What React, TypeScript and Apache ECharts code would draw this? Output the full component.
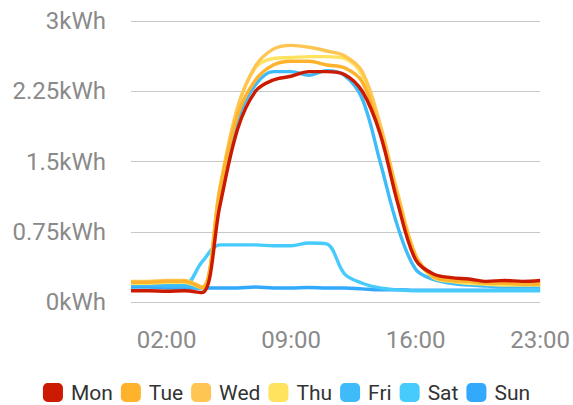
import React, { useEffect, useRef } from "react";
import * as echarts from "echarts";

const hours = [
  "00:00", "01:00", "02:00", "03:00", "04:00", "05:00", "06:00", "07:00",
  "08:00", "09:00", "10:00", "11:00", "12:00", "13:00", "14:00", "15:00",
  "16:00", "17:00", "18:00", "19:00", "20:00", "21:00", "22:00", "23:00",
];

const days = ["Mon", "Tue", "Wed", "Thu", "Fri", "Sat", "Sun"];
const colors = ["#cc1a00", "#ffb32c", "#ffc552", "#ffe35f", "#40bbfa", "#47cbfd", "#33a9fc"];

const mon = [0.12, 0.12, 0.115, 0.12, 0.1, 1.03, 1.85, 2.25, 2.37, 2.41, 2.46, 2.46, 2.43, 2.25, 1.8, 1.05, 0.45, 0.3, 0.26, 0.245, 0.22, 0.23, 0.22, 0.23];
const tue = [0.21, 0.21, 0.22, 0.22, 0.15, 1.2, 2.0, 2.37, 2.53, 2.57, 2.57, 2.53, 2.5, 2.35, 1.82, 1.1, 0.48, 0.27, 0.23, 0.22, 0.2, 0.2, 0.19, 0.19];
const wed = [0.22, 0.22, 0.23, 0.23, 0.16, 1.22, 2.08, 2.52, 2.7, 2.74, 2.72, 2.68, 2.63, 2.46, 1.9, 1.15, 0.5, 0.28, 0.24, 0.22, 0.21, 0.2, 0.2, 0.2];
const thu = [0.2, 0.2, 0.21, 0.21, 0.15, 1.22, 2.08, 2.5, 2.6, 2.61, 2.62, 2.62, 2.6, 2.42, 1.88, 1.15, 0.5, 0.26, 0.22, 0.2, 0.19, 0.18, 0.18, 0.18];
const fri = [0.18, 0.18, 0.17, 0.17, 0.14, 1.15, 1.95, 2.32, 2.46, 2.46, 2.42, 2.47, 2.42, 2.17, 1.5, 0.8, 0.35, 0.24, 0.2, 0.18, 0.17, 0.16, 0.16, 0.16];
const sat = [0.19, 0.19, 0.18, 0.18, 0.43, 0.61, 0.61, 0.61, 0.6, 0.6, 0.63, 0.62, 0.3, 0.2, 0.15, 0.13, 0.12, 0.12, 0.12, 0.12, 0.12, 0.12, 0.12, 0.12];
const sun = [0.16, 0.16, 0.15, 0.15, 0.15, 0.15, 0.15, 0.16, 0.15, 0.15, 0.155, 0.15, 0.15, 0.14, 0.13, 0.13, 0.125, 0.125, 0.125, 0.125, 0.125, 0.125, 0.125, 0.125];

const seriesValues = [mon, tue, wed, thu, fri, sat, sun];

export default function App() {
  const ref = useRef<HTMLDivElement>(null);
  useEffect(() => {
    document.body.style.margin = "0";
    if (!ref.current) return;
    const chart = echarts.init(ref.current, null, { renderer: "svg" });
    const series = days
      .map((d, i) => ({
        name: d,
        type: "line",
        data: seriesValues[i],
        smooth: 0.35,
        showSymbol: false,
        symbol: "none",
        lineStyle: { width: 3.4, color: colors[i] },
        itemStyle: { color: colors[i] },
      }))
      .reverse();
    chart.setOption({
      animation: false,
      textStyle: { fontFamily: "Roboto" },
      grid: { left: 131, right: 31, top: 21, bottom: 103, containLabel: false },
      legend: {
        data: days,
        top: 377,
        left: "center",
        icon: "roundRect",
        itemWidth: 20,
        itemHeight: 19,
        itemGap: 8,
        textStyle: { fontSize: 21, color: "#333", fontFamily: "Roboto", padding: [0, 0, 0, 3] },
      },
      xAxis: {
        type: "category",
        data: hours,
        boundaryGap: false,
        axisLine: { show: false },
        axisTick: { show: false },
        axisLabel: {
          interval: (i: number) => i % 7 === 2,
          fontSize: 24,
          color: "#8a8a8a",
          fontFamily: "Roboto",
          margin: 26,
        },
        splitLine: { show: false },
      },
      yAxis: {
        type: "value",
        min: 0,
        max: 3,
        interval: 0.75,
        axisLine: { show: false },
        axisTick: { show: false },
        axisLabel: {
          formatter: (v: number) => `${v}kWh`,
          fontSize: 24,
          color: "#8a8a8a",
          fontFamily: "Roboto",
          margin: 25,
        },
        splitLine: { lineStyle: { color: "#c8c8c8", width: 1 } },
      },
      series,
    });
    return () => chart.dispose();
  }, []);
  return <div ref={ref} style={{ width: 573, height: 405 }} />;
}
